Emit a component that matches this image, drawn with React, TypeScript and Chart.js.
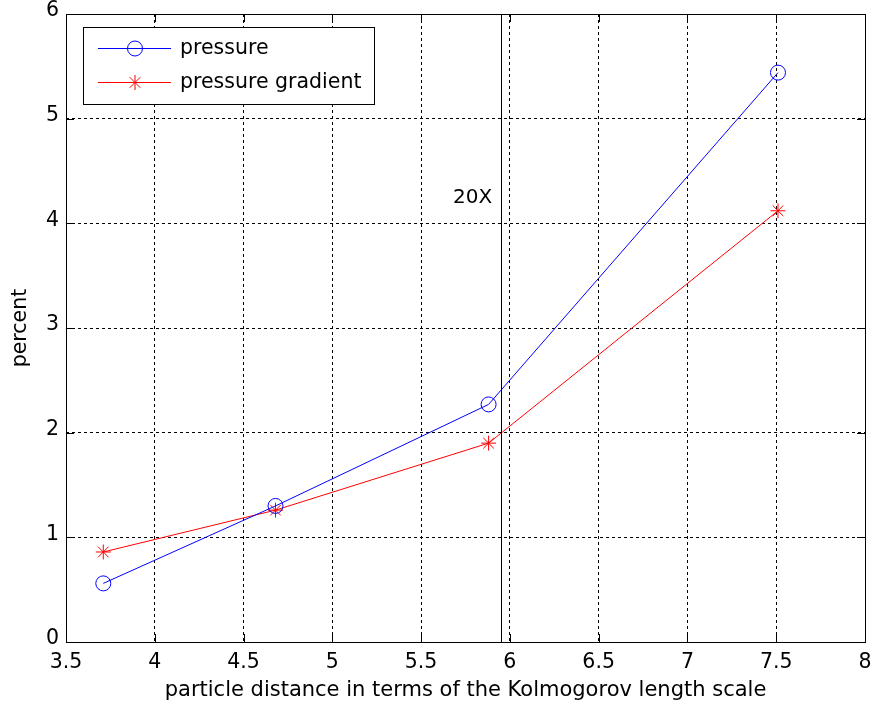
import React, { useEffect, useRef } from "react";
import { Chart, registerables } from "chart.js";

Chart.register(...registerables);

const xValues = [3.71, 4.68, 5.88, 7.51];
const pressure = [0.56, 1.3, 2.27, 5.44];
const pressureGradient = [0.86, 1.26, 1.9, 4.12];
const seriesLabels = ["pressure", "pressure gradient"];
const xTicks = [3.5, 4, 4.5, 5, 5.5, 6, 6.5, 7, 7.5, 8];
const yTicks = [0, 1, 2, 3, 4, 5, 6];
const markerX = 5.95;
const annotation = { text: "20X", x: 5.68, y: 4.19 };
const xTitle = "particle distance in terms of the Kolmogorov length scale";
const yTitle = "percent";

const FONT = "'DejaVu Sans', sans-serif";
const BLUE = "#0000ff";
const RED = "#ff0000";

const overlay = {
  id: "overlay",
  afterDatasetsDraw(chart: any) {
    const { ctx, chartArea, scales } = chart;
    const { left, right, top, bottom } = chartArea;
    const xs = scales.x;
    const ys = scales.y;
    const al = (v: number) => Math.round(v) + 0.5;
    ctx.save();
    ctx.setLineDash([]);
    ctx.strokeStyle = "#000";
    ctx.lineWidth = 1;
    // vertical marker line
    const vx = al(xs.getPixelForValue(markerX));
    ctx.beginPath();
    ctx.moveTo(vx, top);
    ctx.lineTo(vx, bottom);
    ctx.stroke();
    // frame
    ctx.strokeRect(al(left), al(top), Math.round(right - left), Math.round(bottom - top));
    // inner ticks
    const tl = 8;
    ctx.beginPath();
    xTicks.forEach((v) => {
      const px = al(xs.getPixelForValue(v));
      ctx.moveTo(px, bottom);
      ctx.lineTo(px, bottom - tl);
      ctx.moveTo(px, top);
      ctx.lineTo(px, top + tl);
    });
    yTicks.forEach((v) => {
      const py = al(ys.getPixelForValue(v));
      ctx.moveTo(left, py);
      ctx.lineTo(left + tl, py);
      ctx.moveTo(right, py);
      ctx.lineTo(right - tl, py);
    });
    ctx.stroke();
    // annotation
    ctx.fillStyle = "#000";
    ctx.font = `20px ${FONT}`;
    ctx.textAlign = "left";
    ctx.textBaseline = "alphabetic";
    ctx.fillText(annotation.text, xs.getPixelForValue(annotation.x), ys.getPixelForValue(annotation.y));
    // legend
    const bx = 83.5, by = 27.5, bw = 291, bh = 77;
    ctx.fillStyle = "#fff";
    ctx.fillRect(bx, by, bw, bh);
    ctx.strokeRect(bx, by, bw, bh);
    const rows = [
      { y: 48.5, color: BLUE, style: "circle", label: seriesLabels[0] },
      { y: 82.5, color: RED, style: "star", label: seriesLabels[1] },
    ];
    rows.forEach((r) => {
      ctx.strokeStyle = r.color;
      ctx.lineWidth = 1;
      ctx.beginPath();
      ctx.moveTo(98, r.y);
      ctx.lineTo(171, r.y);
      ctx.stroke();
      const cx = 135, cy = r.y;
      ctx.beginPath();
      if (r.style === "circle") {
        ctx.arc(cx, cy, 7.5, 0, Math.PI * 2);
      } else {
        const rad = 7.5;
        const d = Math.cos(Math.PI / 4) * rad;
        ctx.moveTo(cx - rad, cy);
        ctx.lineTo(cx + rad, cy);
        ctx.moveTo(cx, cy - rad);
        ctx.lineTo(cx, cy + rad);
        ctx.moveTo(cx - d, cy - d);
        ctx.lineTo(cx + d, cy + d);
        ctx.moveTo(cx - d, cy + d);
        ctx.lineTo(cx + d, cy - d);
      }
      ctx.stroke();
      ctx.fillStyle = "#000";
      ctx.font = `20.5px ${FONT}`;
      ctx.textBaseline = "middle";
      ctx.fillText(r.label, 180, r.y);
    });
    ctx.restore();
  },
};

export default function App() {
  const ref = useRef<HTMLCanvasElement>(null);
  useEffect(() => {
    document.body.style.margin = "0";
    const canvas = ref.current;
    if (!canvas) return;
    const chart = new Chart(canvas, {
      type: "scatter",
      data: {
        datasets: [
          {
            label: seriesLabels[0],
            data: xValues.map((x, i) => ({ x, y: pressure[i] })),
            showLine: true,
            borderColor: BLUE,
            backgroundColor: "rgba(0,0,0,0)",
            borderWidth: 1,
            pointStyle: "circle",
            pointRadius: 7.5,
            pointBorderWidth: 1,
            pointBorderColor: BLUE,
            pointBackgroundColor: "rgba(0,0,0,0)",
          },
          {
            label: seriesLabels[1],
            data: xValues.map((x, i) => ({ x, y: pressureGradient[i] })),
            showLine: true,
            borderColor: RED,
            backgroundColor: "rgba(0,0,0,0)",
            borderWidth: 1,
            pointStyle: "star",
            pointRadius: 7.5,
            pointBorderWidth: 1,
            pointBorderColor: RED,
            pointBackgroundColor: RED,
          },
        ],
      },
      options: {
        responsive: false,
        animation: false,
        devicePixelRatio: 1,
        layout: { padding: { top: 14, right: 10, left: 0, bottom: 0 } },
        plugins: { legend: { display: false }, tooltip: { enabled: false } },
        scales: {
          x: {
            type: "linear",
            min: 3.5,
            max: 8,
            afterBuildTicks: (s: any) => {
              s.ticks = xTicks.map((v) => ({ value: v }));
            },
            afterFit: (s: any) => {
              s.height = 69;
              s.paddingLeft = 0;
              s.paddingRight = 0;
            },
            ticks: {
              color: "#000",
              font: { family: FONT, size: 20.5 },
              padding: 8,
              maxRotation: 0,
              autoSkip: false,
              callback: (v: any) => String(v),
            },
            grid: { color: "#000", lineWidth: 1, drawTicks: false },
            border: { display: false, dash: [3, 3] },
            title: {
              display: true,
              text: xTitle,
              color: "#000",
              font: { family: FONT, size: 21 },
              padding: { top: 0, bottom: 8 },
            },
          },
          y: {
            type: "linear",
            min: 0,
            max: 6,
            afterBuildTicks: (s: any) => {
              s.ticks = yTicks.map((v) => ({ value: v }));
            },
            afterFit: (s: any) => {
              s.width = 66;
              s.paddingTop = 0;
              s.paddingBottom = 0;
            },
            ticks: {
              color: "#000",
              font: { family: FONT, size: 20.5 },
              padding: 7,
              labelOffset: -3,
              autoSkip: false,
              callback: (v: any) => String(v),
            },
            grid: { color: "#000", lineWidth: 1, drawTicks: false },
            border: { display: false, dash: [3, 3] },
            title: {
              display: true,
              text: yTitle,
              color: "#000",
              font: { family: FONT, size: 20.5 },
              padding: { top: 8, bottom: 0 },
            },
          },
        },
      },
      plugins: [overlay],
    });
    return () => chart.destroy();
  }, []);
  return (
    <div style={{ position: "absolute", left: 0, top: 0, width: 875, height: 711, background: "#fff" }}>
      <canvas ref={ref} width={875} height={711} />
    </div>
  );
}
